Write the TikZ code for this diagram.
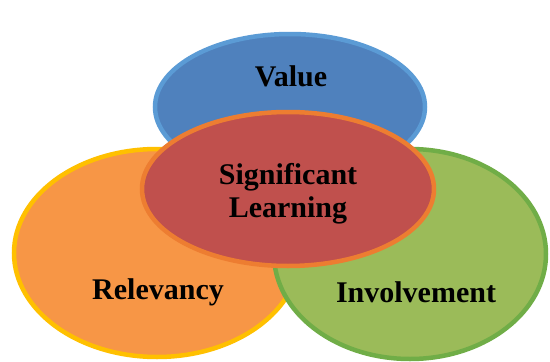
\documentclass[tikz,border=0pt]{standalone}
\usepackage{fontspec}
\setmainfont{Liberation Serif}
\usetikzlibrary{shapes.geometric}
\definecolor{bluefill}{HTML}{4F81BD}
\definecolor{blueline}{HTML}{5B9BD5}
\definecolor{orangefill}{HTML}{F79646}
\definecolor{orangeline}{HTML}{FFC000}
\definecolor{greenfill}{HTML}{9BBB59}
\definecolor{greenline}{HTML}{70AD47}
\definecolor{redfill}{HTML}{C0504D}
\definecolor{redline}{HTML}{ED7D31}
\tikzset{
  blob/.style={ellipse, inner sep=0pt, line width=4.5pt},
  lbl/.style={font=\fontsize{30}{33}\selectfont\bfseries, text=black, align=center, inner sep=0pt}
}
\begin{document}
\begin{tikzpicture}[x=1pt,y=-1pt]
\useasboundingbox (0,0) rectangle (550,362);
\node[blob, draw=blueline, fill=bluefill, minimum width=270pt, minimum height=146pt] (value) at (290,107) {};
\node[blob, draw=orangeline, fill=orangefill, minimum width=286pt, minimum height=208pt] (relevancy) at (157,253) {};
\node[blob, draw=greenline, fill=greenfill, minimum width=272pt, minimum height=210pt] (involvement) at (410,254) {};
\node[blob, draw=redline, fill=redfill, minimum width=292pt, minimum height=154pt] (learning) at (288,189) {};
\node[lbl] (tvalue) at (291,76) {Value};
\node[lbl] (tlearn) at (288,194) {Significant\\Learning};
\node[lbl] (trel) at (158,292) {Relevancy};
\node[lbl] (tinv) at (416,292) {Involvement};
\end{tikzpicture}
\end{document}
